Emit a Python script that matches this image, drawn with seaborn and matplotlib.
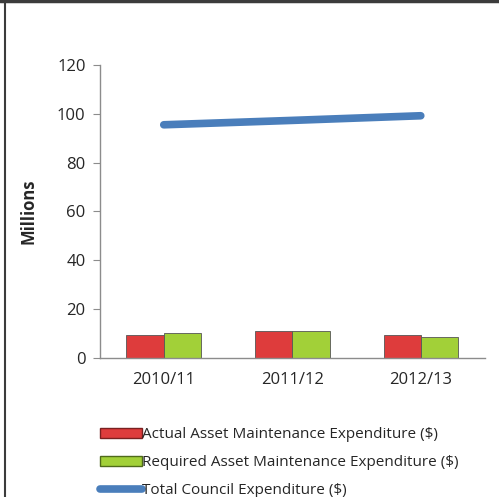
import pandas as pd
import numpy as np
import matplotlib
matplotlib.use('Agg')
import matplotlib.pyplot as plt
import seaborn as sns
from matplotlib.patches import Patch
from matplotlib.lines import Line2D

years = ['2010/11', '2011/12', '2012/13']
actual_maint = [9.4, 11.2, 9.4]
required_maint = [10.1, 11.2, 8.5]
total_council = [95.5, 97.3, 99.2]

series_names = ['Actual Asset Maintenance Expenditure ($)',
                'Required Asset Maintenance Expenditure ($)',
                'Total Council Expenditure ($)']

bars = pd.DataFrame({
    'year': years * 2,
    'value': actual_maint + required_maint,
    'series': [series_names[0]] * 3 + [series_names[1]] * 3,
})

red = '#DE3C3C'
green = '#A2D038'
blue = '#4A7EBB'

sns.set_style('white')
plt.rcParams['font.family'] = ['Open Sans', 'DejaVu Sans']

fig = plt.figure(figsize=(4.99, 4.97), dpi=100)
ax = fig.add_axes([0.1994, 0.2797, 0.7726, 0.5896])

sns.barplot(data=bars, x='year', y='value', hue='series',
            palette=[red, green], saturation=1, width=0.58,
            edgecolor='#555555', linewidth=0.6, legend=False, ax=ax)
sns.lineplot(x=np.arange(len(years)), y=total_council, color=blue,
             linewidth=5.5, solid_capstyle='round', ax=ax)

ax.set_xlim(-0.5, 2.5)
ax.set_ylim(0, 120)
ax.set_yticks(range(0, 121, 20))
ax.set_xlabel('')
ax.set_ylabel('Millions', fontsize=12, fontweight='bold', labelpad=14)

for side in ['top', 'right']:
    ax.spines[side].set_visible(False)
for side in ['left', 'bottom']:
    ax.spines[side].set_color('#8c8c8c')
    ax.spines[side].set_linewidth(1)

ax.set_xticks([-0.5, 0.5, 1.5, 2.5], minor=True)
ax.tick_params(axis='x', which='major', length=0, pad=10, labelsize=12)
ax.tick_params(axis='x', which='minor', length=5, color='#8c8c8c', direction='out')
ax.tick_params(axis='y', length=5, color='#8c8c8c', direction='out',
               left=True, pad=5, labelsize=12)

handles = [Patch(facecolor=red, edgecolor='#7a2020'),
           Patch(facecolor=green, edgecolor='#4f6a1a'),
           Line2D([0], [0], color=blue, linewidth=5.5)]
fig.legend(handles, series_names, loc='lower left',
           bbox_to_anchor=(0.172, -0.03), frameon=False, fontsize=11,
           handlelength=2.8, handletextpad=0.0, labelspacing=0.85,
           handleheight=0.6)

# frame of the original screenshot
fig.add_artist(Line2D([0, 1], [0.997, 0.997], transform=fig.transFigure,
                      color='#3c3c3c', linewidth=2.5))
fig.add_artist(Line2D([0.011, 0.011], [0, 1], transform=fig.transFigure,
                      color='#3c3c3c', linewidth=1.5))

fig.savefig('out.png', dpi=100)
